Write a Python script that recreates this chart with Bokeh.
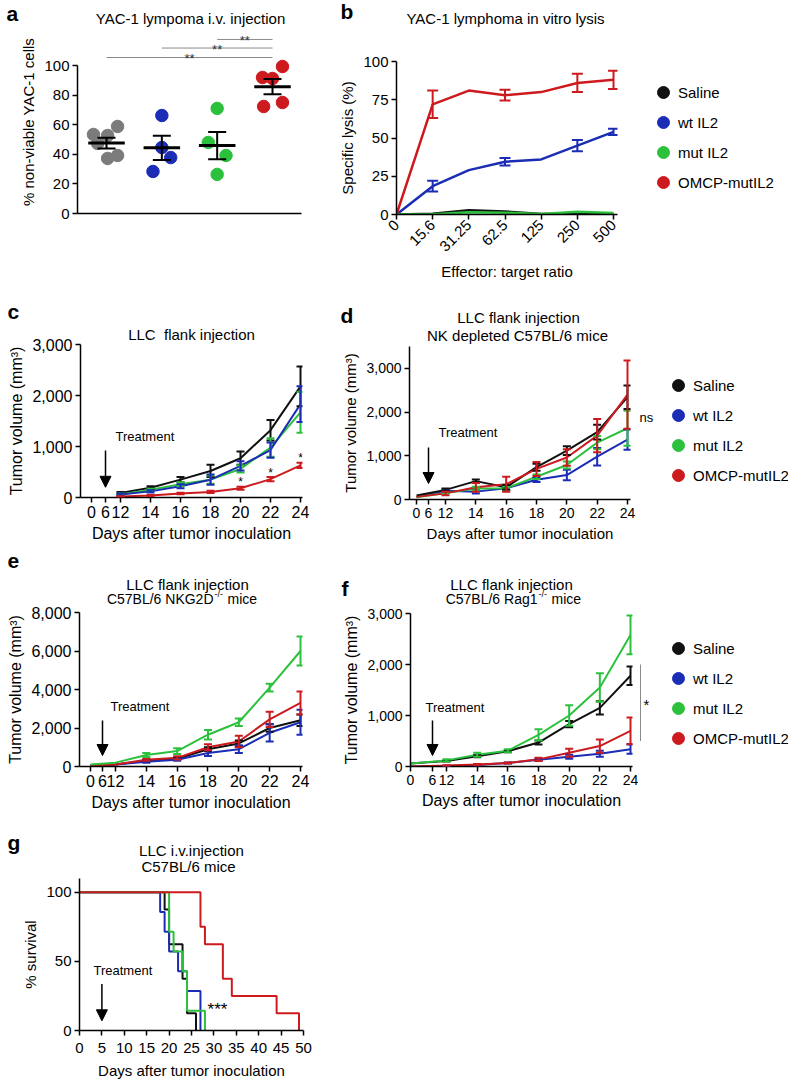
import math
from bokeh.plotting import figure
from bokeh.models import (Range1d, FixedTicker, NumeralTickFormatter, Label, Whisker, TeeHead,
                          ColumnDataSource, Arrow, NormalHead, Legend, LegendItem)
from bokeh.layouts import row, column
from bokeh.embed import file_html
from bokeh.resources import INLINE
from bokeh.core.properties import value

# ======================= DATA =======================
SERIES = ["Saline", "wt IL2", "mut IL2", "OMCP-mutIL2"]

# (a) YAC-1 lymphoma i.v. injection, % non-viable cells
a_saline = [58.8, 53.4, 52.7, 47.3, 39.2, 37.2]
a_wt = [66.2, 44.6, 37.8, 28.4]
a_mut = [71.0, 48.0, 39.2, 26.4]
a_omcp = [99.3, 91.9, 91.2, 75.0, 72.3]
a_mean = [47.6, 44.4, 45.9, 85.7]
a_sem = [3.6, 8.2, 9.2, 5.1]
a_sig_from = [1, 2, 3]
a_sig_to = [4, 4, 4]
a_sig_y = [105.4, 111.8, 117.6]
a_sig_text = ["**", "**", "**"]

# (b) in vitro lysis (%)
b_ratio_labels = ["0", "15.6", "31.25", "62.5", "125", "250", "500"]
b_saline = [0, 0.5, 2.8, 2.0, 0.3, 0.5, 0.3]
b_saline_err = [0, 0, 0, 0, 0, 0, 0]
b_wt = [0, 18.5, 29, 34.5, 36, 45, 54]
b_wt_err = [0, 3.5, 0, 2.5, 0, 3.7, 2.0]
b_mut = [0, 0.2, 1.5, 1.2, 0.3, 1.8, 1.0]
b_mut_err = [0, 0, 0, 0, 0, 0, 0]
b_omcp = [0, 72, 81, 78, 80, 86, 88]
b_omcp_err = [0, 9, 0, 3.5, 0, 6, 6]

# (c) LLC flank injection
c_days = [12, 14, 16, 18, 20, 22, 24]
c_saline = [90, 190, 350, 520, 770, 1320, 2180]
c_saline_err = [20, 30, 50, 120, 130, 200, 390]
c_wt = [60, 120, 220, 350, 620, 930, 1830]
c_wt_err = [20, 20, 40, 100, 90, 150, 350]
c_mut = [60, 150, 260, 350, 560, 980, 1670]
c_mut_err = [20, 20, 40, 80, 70, 180, 400]
c_omcp = [20, 40, 80, 110, 180, 360, 630]
c_omcp_err = [5, 10, 15, 20, 30, 40, 50]
c_star_days = [20, 22, 24]
c_star_y = [353, 549, 824]

# (d) NK depleted
d_days = [0, 12, 14, 16, 18, 20, 22, 24]
d_saline = [90, 220, 420, 280, 740, 1120, 1540, 2340]
d_saline_err = [0, 30, 40, 50, 80, 100, 170, 270]
d_wt = [60, 200, 180, 260, 450, 560, 980, 1370]
d_wt_err = [0, 30, 40, 60, 50, 120, 200, 230]
d_mut = [50, 150, 250, 260, 520, 790, 1300, 1630]
d_mut_err = [0, 20, 40, 40, 50, 80, 150, 400]
d_omcp = [60, 140, 280, 350, 700, 960, 1460, 2400]
d_omcp_err = [0, 40, 100, 170, 160, 190, 380, 780]

# (e) NKG2D-/-
e_days = [0, 12, 14, 16, 18, 20, 22, 24]
e_saline = [50, 100, 300, 400, 900, 1200, 2000, 2400]
e_saline_err = [0, 0, 50, 50, 100, 150, 200, 300]
e_wt = [50, 100, 250, 350, 700, 900, 1750, 2300]
e_wt_err = [0, 0, 50, 50, 150, 200, 450, 650]
e_mut = [100, 200, 600, 800, 1650, 2300, 4100, 6000]
e_mut_err = [0, 0, 100, 150, 250, 200, 200, 750]
e_omcp = [50, 100, 350, 450, 1000, 1300, 2450, 3300]
e_omcp_err = [0, 0, 50, 80, 150, 300, 400, 600]

# (f) Rag1-/-
f_days = [0, 12, 14, 16, 18, 20, 22, 24]
f_saline = [60, 110, 200, 300, 470, 830, 1150, 1780]
f_saline_err = [0, 10, 20, 20, 40, 60, 130, 180]
f_wt = [0, 10, 30, 70, 130, 190, 250, 340]
f_wt_err = [0, 5, 10, 10, 20, 40, 60, 90]
f_mut = [60, 120, 230, 310, 620, 1000, 1550, 2580]
f_mut_err = [0, 20, 40, 30, 110, 200, 280, 380]
f_omcp = [0, 20, 40, 70, 140, 270, 400, 700]
f_omcp_err = [0, 5, 10, 10, 30, 80, 130, 260]
f_sig_range = [500, 2000]

# (g) survival (Kaplan-Meier steps)
g_saline_t = [0, 19, 20, 23, 24, 26]
g_saline_s = [100, 87.5, 62.5, 37.5, 12.5, 0]
g_wt_t = [0, 18, 19, 20, 22, 24, 27]
g_wt_s = [100, 85.7, 71.4, 57.1, 42.9, 28.6, 0]
g_mut_t = [0, 20, 21, 23, 24, 28]
g_mut_s = [100, 71.4, 57.1, 42.9, 14.3, 0]
g_omcp_t = [0, 27, 28, 32, 34, 44, 49]
g_omcp_s = [100, 75, 62.5, 37.5, 25, 12.5, 0]

# ======================= STYLE / LAYOUT =======================
FONT = "Liberation Sans"
COL = {"Saline": "#111111", "wt IL2": "#1b2db5", "mut IL2": "#2cc13d", "OMCP-mutIL2": "#cc1a1f"}
DOT_GRAY = "#7b7b7b"
BASE_FIX = 0.35   # em correction for where the renderer puts an alphabetic baseline


def no_align(p):
    try:
        p.frame_align = False
    except Exception:
        pass


def frame_fig(spec, xr, yr, tick_fs=15, lab_fs=15):
    p = figure(width=spec["w"], height=spec["h"], x_range=xr, y_range=yr,
               toolbar_location=None, output_backend="svg",
               min_border_left=spec["L"] - spec["ox"],
               min_border_right=spec["ox"] + spec["w"] - spec["R"],
               min_border_top=spec["T"] - spec["oy"],
               min_border_bottom=spec["oy"] + spec["h"] - spec["B"])
    no_align(p)
    p.outline_line_color = None
    p.xgrid.visible = False
    p.ygrid.visible = False
    p.background_fill_color = "white"
    p.border_fill_color = "white"
    for ax in list(p.xaxis) + list(p.yaxis):
        ax.axis_line_width = 1.5
        ax.axis_line_color = "black"
        ax.major_tick_line_width = 1.5
        ax.major_tick_line_color = "black"
        ax.major_tick_in = 0
        ax.major_tick_out = 5
        ax.minor_tick_line_color = None
        ax.major_label_text_font = FONT
        ax.major_label_text_font_size = f"{tick_fs}px"
        ax.major_label_text_color = "black"
        ax.major_label_standoff = 3
        ax.axis_label_text_font = FONT
        ax.axis_label_text_font_size = f"{lab_fs}px"
        ax.axis_label_text_font_style = "normal"
        ax.axis_label_text_color = "black"
        ax.axis_label_standoff = 4
    return p


def blank_fig(ox, oy, w, h, T=None, B=None, yr=None):
    top = 0 if T is None else T - oy
    bot = 0 if B is None else oy + h - B
    p = figure(width=w, height=h, x_range=Range1d(ox, ox + w),
               y_range=yr if yr is not None else Range1d(0, h),
               toolbar_location=None, output_backend="svg",
               x_axis_location=None, y_axis_location=None,
               min_border_left=0, min_border_right=0, min_border_top=top, min_border_bottom=bot)
    no_align(p)
    p.outline_line_color = None
    p.background_fill_color = "white"
    p.border_fill_color = "white"
    p.grid.visible = False
    p.tags = [ox, (oy + h) if B is None else B]   # frame left / bottom in page px
    return p


def txt(p, FL, FB, s, sx, sy, size=15, align="center", style="normal", vc=0.33):
    # (sx, sy): page position of the visual centre of the text
    p.add_layout(Label(x=sx - FL, y=FB - (sy + (vc - BASE_FIX) * size),
                       x_units="screen", y_units="screen",
                       text=s, text_font=FONT, text_font_size=f"{size}px", text_align=align,
                       text_baseline="alphabetic", text_font_style=style, text_color="black"))


def stxt(p, *a, **k):
    txt(p, p.tags[0], p.tags[1], *a, **k)


def ptxt(p, spec, *a, **k):
    txt(p, spec["L"], spec["B"], *a, **k)


def errbars(p, xs, ys, es, color, cap, lw=2.0):
    keep = [i for i, e in enumerate(es) if e > 0]
    src = ColumnDataSource(dict(x=[xs[i] for i in keep],
                                lo=[ys[i] - es[i] for i in keep],
                                hi=[ys[i] + es[i] for i in keep]))
    w = Whisker(source=src, base="x", lower="lo", upper="hi", line_color=color, line_width=lw,
                upper_head=TeeHead(size=cap, line_color=color, line_width=lw),
                lower_head=TeeHead(size=cap, line_color=color, line_width=lw),
                level="annotation")
    p.add_layout(w)


def add_legend(p, cx, cy_top, pitch=30):
    FL, FB = p.tags
    items = []
    for name in SERIES:
        # legend proxy: a single marker placed outside the visible range
        r = p.scatter(x=[p.x_range.start - 500], y=[0], marker="circle", size=12,
                      fill_color=COL[name], line_color=COL[name])
        items.append(LegendItem(label=name, renderers=[r]))
    bottom = cy_top - pitch // 2 + pitch * 4
    leg = Legend(items=items, location=(int(cx - 15 - FL), int(FB - bottom)),
                 orientation="vertical", glyph_width=30, glyph_height=int(pitch), spacing=0,
                 padding=0, margin=0, label_standoff=0, label_height=20,
                 label_text_font=FONT, label_text_font_size="15px", label_text_color="black",
                 border_line_color=None, background_fill_alpha=0)
    p.add_layout(leg, "center")


def arrow(p, x, y0, y1):
    p.add_layout(Arrow(x_start=x, y_start=y0, x_end=x, y_end=y1, line_width=1.5,
                       line_color="black",
                       end=NormalHead(size=11, fill_color="black", line_color="black",
                                      line_width=1)))


def day_axis(spec, x12, x24, x0, x6):
    ppd = (x24 - x12) / 12.0
    f = lambda px: round(12 + (px - x12) / ppd, 3)
    return f(spec["L"]), f(spec["R"]), f(x0), f(x6), f


def tumor_panel(spec, px, days, series, order, ymax, yticks, tick_fs, lab_fs, cap=8):
    xl, xr, p0, p6, f = day_axis(spec, *px)
    p = frame_fig(spec, Range1d(xl, xr), Range1d(0, ymax), tick_fs, lab_fs)
    pos = {0: p0, 6: p6}
    xs = [pos.get(d, d) for d in days]
    for name in order:
        ys, es = series[name]
        p.line(xs, ys, line_color=COL[name], line_width=2)
        errbars(p, xs, ys, es, COL[name], cap)
    ticks = [p0, p6, 12, 14, 16, 18, 20, 22, 24]
    labs = ["0", "6", "12", "14", "16", "18", "20", "22", "24"]
    p.xaxis.ticker = FixedTicker(ticks=ticks)
    p.xaxis.major_label_overrides = {t: l for t, l in zip(ticks, labs)}
    p.yaxis.ticker = FixedTicker(ticks=yticks)
    p.yaxis.formatter = NumeralTickFormatter(format="0,0")
    p.xaxis.axis_label = "Days after tumor inoculation"
    p.yaxis.axis_label = "Tumor volume (mm\u00b3)"
    return p, f, p6


LW, RW = 325, 463   # column widths (page px)

# ---------------- panel a ----------------
sa = blank_fig(0, 0, LW, 28)
stxt(sa, "a", 6, 15, size=21, align="left", style="bold", vc=0.26)
stxt(sa, "YAC-1 lympoma i.v. injection", 190, 18, size=15)

A = dict(ox=0, oy=28, w=LW, h=210, L=77, R=301, T=30, B=213)
pa = frame_fig(A, Range1d(0.476, 4.524), Range1d(0, 123.65))
a_groups = [a_saline, a_wt, a_mut, a_omcp]
a_colors = [DOT_GRAY, COL["wt IL2"], COL["mut IL2"], COL["OMCP-mutIL2"]]
a_jitter = [[0.2, -0.235, 0.02, -0.16, 0.2, 0.02], [0, 0, 0.16, -0.16],
            [0, -0.16, 0.16, 0], [0.18, -0.18, 0, 0.18, -0.16]]
for gi, (vals, c, jit) in enumerate(zip(a_groups, a_colors, a_jitter), start=1):
    pa.scatter([gi + j for j in jit], vals, size=12.5, fill_color=c, line_color=c)
gx = [1, 2, 3, 4]
pa.segment(x0=[g - 0.33 for g in gx], x1=[g + 0.33 for g in gx], y0=a_mean, y1=a_mean,
           line_color="black", line_width=3, level="annotation")
errbars(pa, gx, a_mean, a_sem, "black", 18, 2)
pa.segment(x0=a_sig_from, x1=a_sig_to, y0=a_sig_y, y1=a_sig_y, line_color="#8a8a8a", line_width=1)
pa.text(x=[(a + b) / 2 for a, b in zip(a_sig_from, a_sig_to)], y=a_sig_y, text=a_sig_text,
        text_font=value(FONT), text_font_size="13px", text_align="center",
        text_baseline="alphabetic", y_offset=1, text_color="#333333")
pa.xaxis.ticker = FixedTicker(ticks=[])
pa.xaxis.major_tick_out = 0
pa.yaxis.ticker = FixedTicker(ticks=[0, 20, 40, 60, 80, 100])
pa.yaxis.bounds = (0, 100)
pa.yaxis.axis_label = "% non-viable YAC-1 cells"

# ---------------- panel b ----------------
sb = blank_fig(LW, 0, RW, 30)
stxt(sb, "b", 340, 11, size=21, align="left", style="bold", vc=0.36)
stxt(sb, "YAC-1 lymphoma in vitro lysis", 505, 18, size=15)

Bs = dict(ox=LW, oy=30, w=297, h=260, L=396, R=617, T=61, B=214)
pb = frame_fig(Bs, Range1d(0, 6.11), Range1d(0, 100))
bx = list(range(len(b_ratio_labels)))
b_series = {"Saline": (b_saline, b_saline_err), "wt IL2": (b_wt, b_wt_err),
            "mut IL2": (b_mut, b_mut_err), "OMCP-mutIL2": (b_omcp, b_omcp_err)}
for name in ["wt IL2", "OMCP-mutIL2", "Saline", "mut IL2"]:
    ys, es = b_series[name]
    pb.line(bx, ys, line_color=COL[name], line_width=2.5)
    errbars(pb, bx, ys, es, COL[name], 11)
pb.xaxis.ticker = FixedTicker(ticks=bx)
pb.xaxis.major_label_overrides = {i: l for i, l in zip(bx, b_ratio_labels)}
pb.xaxis.major_label_orientation = math.pi / 4
pb.yaxis.ticker = FixedTicker(ticks=[0, 25, 50, 75, 100])
pb.xaxis.axis_label = "Effector: target ratio"
pb.yaxis.axis_label = "Specific lysis (%)"
xb = blank_fig(622, 30, 166, 260, T=61, B=214, yr=pb.y_range)
add_legend(xb, 663, 92)

# ---------------- panel c ----------------
sc = blank_fig(0, 238, LW, 85)
stxt(sc, "c", 7, 313, size=21, align="left", style="bold", vc=0.26)

C = dict(ox=0, oy=323, w=LW, h=222, L=80, R=302, T=344, B=497)
c_series = {"Saline": (c_saline, c_saline_err), "wt IL2": (c_wt, c_wt_err),
            "mut IL2": (c_mut, c_mut_err), "OMCP-mutIL2": (c_omcp, c_omcp_err)}
pc, fc, c6 = tumor_panel(C, (120, 300, 91, 105), c_days, c_series,
                         ["Saline", "mut IL2", "wt IL2", "OMCP-mutIL2"],
                         3000, [0, 1000, 2000, 3000], 16, 16)
pc.title.text = "LLC\u00a0 flank injection"
pc.title.align = "center"
pc.title.vertical_align = "middle"
pc.title.standoff = 2
pc.title.text_font = FONT
pc.title.text_font_size = "15px"
pc.title.text_font_style = "normal"
pc.title.text_color = "black"
pc.text(x=c_star_days, y=c_star_y, text=["*"] * len(c_star_days), text_font=value(FONT),
        text_font_size="12px", text_align="center", text_baseline="alphabetic", y_offset=3)
arrow(pc, c6, 920, 200)
ptxt(pc, C, "Treatment", 115, 437, size=13, align="left", vc=0.3)

# ---------------- panel d ----------------
sd = blank_fig(LW, 290, RW, 55)
stxt(sd, "d", 340, 315, size=21, align="left", style="bold", vc=0.36)
stxt(sd, "LLC flank injection", 518, 317, size=15)
stxt(sd, "NK depleted C57BL/6 mice", 517, 335, size=15)

D = dict(ox=LW, oy=345, w=312, h=200, L=409, R=630, T=346, B=499)
d_series = {"Saline": (d_saline, d_saline_err), "wt IL2": (d_wt, d_wt_err),
            "mut IL2": (d_mut, d_mut_err), "OMCP-mutIL2": (d_omcp, d_omcp_err)}
pd_, fd, d6 = tumor_panel(D, (445, 627, 416, 428), d_days, d_series,
                          ["wt IL2", "mut IL2", "Saline", "OMCP-mutIL2"],
                          3500, [0, 1000, 2000, 3000], 14, 15)
arrow(pd_, d6, 1190, 366)
ptxt(pd_, D, "Treatment", 438, 433, size=13, align="left", vc=0.3)
xd = blank_fig(637, 345, 151, 200, T=346, B=499, yr=pd_.y_range)
add_legend(xd, 678, 385)
stxt(xd, "ns", 639, 418, size=13, align="left", vc=0.26)

# ---------------- panel e ----------------
se = blank_fig(0, 545, LW, 61)
stxt(se, "e", 7, 562, size=21, align="left", style="bold", vc=0.26)
stxt(se, "LLC flank injection", 187, 584, size=15)
stxt(se, "C57BL/6 NKG2D", 213, 599, size=14, align="right")
stxt(se, "-/-", 214, 594, size=9, align="left")
stxt(se, "mice", 227, 599, size=14, align="left")

E = dict(ox=0, oy=606, w=LW, h=209, L=79, R=302, T=612, B=766)
e_series = {"Saline": (e_saline, e_saline_err), "wt IL2": (e_wt, e_wt_err),
            "mut IL2": (e_mut, e_mut_err), "OMCP-mutIL2": (e_omcp, e_omcp_err)}
pe, fe, e6 = tumor_panel(E, (115, 300, 90, 102), e_days, e_series,
                         ["Saline", "wt IL2", "OMCP-mutIL2", "mut IL2"],
                         8000, [0, 2000, 4000, 6000, 8000], 16, 16)
arrow(pe, e6, 2390, 571)
ptxt(pe, E, "Treatment", 110, 707, size=13, align="left", vc=0.3)

# ---------------- panel f ----------------
sf = blank_fig(LW, 545, RW, 62)
stxt(sf, "f", 341, 588, size=21, align="left", style="bold", vc=0.36)
stxt(sf, "LLC flank injection", 511, 584, size=15)
stxt(sf, "C57BL/6 Rag1", 537, 599, size=14, align="right")
stxt(sf, "-/-", 538, 594, size=9, align="left")
stxt(sf, "mice", 551, 599, size=14, align="left")

F = dict(ox=LW, oy=607, w=313, h=208, L=410, R=632, T=613, B=766)
f_series = {"Saline": (f_saline, f_saline_err), "wt IL2": (f_wt, f_wt_err),
            "mut IL2": (f_mut, f_mut_err), "OMCP-mutIL2": (f_omcp, f_omcp_err)}
pf, ff, f6 = tumor_panel(F, (446, 630, 410, 432), f_days, f_series,
                         ["wt IL2", "OMCP-mutIL2", "Saline", "mut IL2"],
                         3000, [0, 1000, 2000, 3000], 14, 16)
arrow(pf, f6, 902, 216)
ptxt(pf, F, "Treatment", 425, 708, size=13, align="left", vc=0.3)
xf = blank_fig(638, 607, 150, 208, T=613, B=766, yr=pf.y_range)
xf.segment(x0=[640], x1=[640], y0=[f_sig_range[0]], y1=[f_sig_range[1]],
           line_color="#8a8a8a", line_width=1)
add_legend(xf, 678, 648)
stxt(xf, "*", 646, 700, size=15, vc=0.62)

# ---------------- panel g ----------------
sg = blank_fig(0, 815, LW, 61)
stxt(sg, "g", 7, 845, size=21, align="left", style="bold", vc=0.2)
stxt(sg, "LLC i.v.injection", 191, 850, size=15)
stxt(sg, "C57BL/6 mice", 188, 866, size=15)

G = dict(ox=0, oy=876, w=LW, h=205, L=79, R=303, T=878, B=1032)
pg = frame_fig(G, Range1d(0, 50), Range1d(0, 110))
g_series = {"Saline": (g_saline_t, g_saline_s), "wt IL2": (g_wt_t, g_wt_s),
            "mut IL2": (g_mut_t, g_mut_s), "OMCP-mutIL2": (g_omcp_t, g_omcp_s)}
for name in ["Saline", "wt IL2", "mut IL2", "OMCP-mutIL2"]:
    t, s = g_series[name]
    pg.step(t, s, mode="after", line_color=COL[name], line_width=2)
pg.xaxis.ticker = FixedTicker(ticks=list(range(0, 51, 5)))
pg.yaxis.ticker = FixedTicker(ticks=[0, 50, 100])
pg.xaxis.major_label_standoff = 7
pg.xaxis.axis_label_standoff = 6
pg.xaxis.axis_label = "Days after tumor inoculation"
pg.yaxis.axis_label = "% survival"
arrow(pg, 5, 33.6, 7)
ptxt(pg, G, "Treatment", 93, 973, size=13, align="left", vc=0.3)
ptxt(pg, G, "***", 217, 1006, size=17, vc=0.62)

left = column(sa, pa, sc, pc, se, pe, sg, pg)
right = column(sb, row(pb, xb), sd, row(pd_, xd), sf, row(pf, xf))
layout = row(left, right)
open("out.html", "w").write(file_html(layout, INLINE))
